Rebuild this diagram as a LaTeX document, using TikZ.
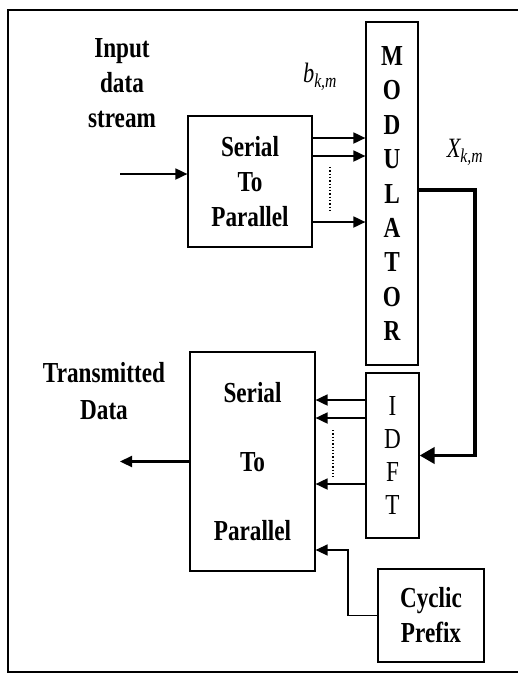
\documentclass[tikz,border=0pt]{standalone}
\usepackage{fontspec}
\setmainfont{Liberation Serif}[FakeStretch=0.8]
\usetikzlibrary{arrows.meta, positioning, calc}
\tikzset{
  block/.style={
    draw, line width=1.2pt, inner sep=0pt,
    font=\fontsize{29}{35}\selectfont\bfseries, align=center
  },
  lbl/.style={font=\fontsize{29}{35}\selectfont\bfseries, align=center},
  sym/.style={font=\fontsize{28}{35}\selectfont\itshape},
  wire/.style={-{Triangle[length=12pt, width=11pt]}, line width=1.8pt},
  fatwire/.style={-{Triangle[length=15pt, width=16pt]}, line width=3.8pt},
  gap/.style={dotted, line width=1.3pt},
  frame/.style={line width=1.8pt},
}

\begin{document}
\begin{tikzpicture}[x=1pt, y=-1pt]

  \useasboundingbox (0,0) rectangle (518,673);
  \draw[frame] (518,10) -- (8,10) -- (8,672) -- (518,672);

  % ============ TOP ROW (serial to parallel + modulator) ============
  \node[lbl] (inlabel) at (122, 83) {Input\\data\\stream};
  \node[block, minimum width=124pt, minimum height=131pt]
    (s2p) at (250, 181.5) {Serial\\To\\Parallel};
  \node[block, minimum width=52pt, minimum height=343pt,
        font=\fontsize{29}{34.4}\selectfont\bfseries]
    (mod) at (392, 193.5) {M\\O\\D\\U\\L\\A\\T\\O\\R};
  \node[sym] (blabel) at (320, 77) {b\textsubscript{k,m}};
  \node[sym] (xlabel) at (465, 152) {X\textsubscript{k,m}};

  \coordinate (in) at (120, 174);
  \draw[wire] (in) -- (in -| s2p.west);

  % parallel branches
  \foreach \y in {138, 156, 222} {
    \draw[wire] (s2p.east |- 0,\y) -- (mod.west |- 0,\y);
  }
  \draw[gap] (330, 167) -- (330, 213);

  % ============ BOTTOM ROW (IDFT + parallel to serial) ============
  \node[block, minimum width=53pt, minimum height=165pt,
        font=\fontsize{29}{33.3}\selectfont]
    (idft) at (392.5, 455.5) {I\\D\\F\\T};
  \node[block, minimum width=125pt, minimum height=219pt,
        font=\fontsize{29}{69}\selectfont\bfseries]
    (p2s) at (252.5, 461.5) {Serial\\To\\Parallel};
  \node[lbl, font=\fontsize{29}{37}\selectfont\bfseries]
    (outlabel) at (104, 391.5) {Transmitted\\Data};
  \node[block, minimum width=106pt, minimum height=93pt]
    (cp) at (431, 615.5) {Cyclic\\Prefix};

  % modulator output down to IDFT
  \coordinate (turn) at (475, 190);
  \draw[fatwire] (mod.east |- turn) -- (turn) |- (idft.east);

  \foreach \y in {400, 418, 484} {
    \draw[wire] (idft.west |- 0,\y) -- (p2s.east |- 0,\y);
  }
  \draw[gap] (333, 430) -- (333, 477);

  \coordinate (out) at (120, 461.5);
  \draw[wire, line width=2.2pt] (p2s.west) -- (out);

  % cyclic prefix insertion
  \coordinate (cpbend) at (348, 550);
  \draw[wire, line width=1.3pt] (cp.west) -| (cpbend) -- (p2s.east |- cpbend);

\end{tikzpicture}
\end{document}
